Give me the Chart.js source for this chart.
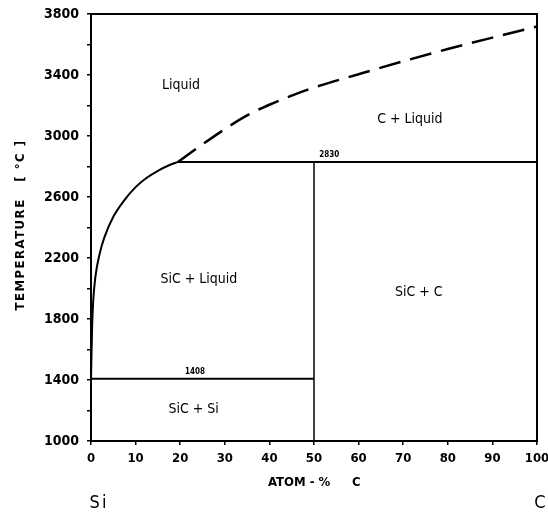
<!DOCTYPE html>
<html>
<head>
<meta charset="utf-8">
<script src="https://cdn.jsdelivr.net/npm/chart.js@4.4.0/dist/chart.umd.min.js"></script>
<style>
  html, body { margin: 0; padding: 0; background: #fff; }
  #wrap { width: 548px; height: 515px; }
</style>
</head>
<body>
<div id="wrap"><canvas id="phaseChart"></canvas></div>
<script>
// Si-C phase diagram
const liquidusX = [0, 0.25, 0.5, 1, 2, 3, 5, 7.5, 10, 12.5, 15, 17.5, 19.5];
const liquidusT = [1408, 1750, 1920, 2080, 2235, 2335, 2470, 2580, 2665, 2726, 2772, 2808, 2830];

const dashedX = [19.5, 25, 30, 35, 40, 45, 50, 60, 70, 80, 90, 100];
const dashedT = [2830, 2945, 3045, 3135, 3205, 3265, 3318, 3405, 3490, 3570, 3645, 3718];

const peritecticT = 2830;
const eutecticT = 1408;
const sicX = 50;

const yTicks = [1000, 1400, 1800, 2200, 2600, 3000, 3400, 3800];

const regionLabels = [
  { text: 'Liquid', x: 20.2, t: 3330 },
  { text: 'C + Liquid', x: 71.5, t: 3111 },
  { text: 'SiC + Liquid', x: 24.2, t: 2062 },
  { text: 'SiC + C', x: 73.5, t: 1975 },
  { text: 'SiC + Si', x: 23, t: 1210 }
];
const tempLabels = [
  { text: '2830', x: 53.4, t: 2830 },
  { text: '1408', x: 23.3, t: 1408 }
];

const NARROW = "'Liberation Sans Narrow', 'DejaVu Sans Condensed', sans-serif";
const COND = "'DejaVu Sans Condensed', 'Liberation Sans Narrow', sans-serif";

function pts(xs, ys) {
  return xs.map((x, i) => ({ x: x, y: ys[i] }));
}

const lineStyle = {
  showLine: true,
  borderColor: '#000',
  borderWidth: 2,
  pointRadius: 0,
  fill: false
};

// frame, labels, axis titles and end-member names
const annotate = {
  id: 'annotate',
  afterDatasetsDraw(chart) {
    const { ctx, chartArea: a, scales: { x, y } } = chart;
    ctx.save();
    ctx.strokeStyle = '#000';
    ctx.lineWidth = 2;
    ctx.strokeRect(a.left, a.top, a.right - a.left, a.bottom - a.top);

    ctx.fillStyle = '#000';
    ctx.textAlign = 'center';
    ctx.textBaseline = 'middle';
    ctx.font = '14px ' + NARROW;
    regionLabels.forEach(l => ctx.fillText(l.text, x.getPixelForValue(l.x), y.getPixelForValue(l.t)));

    ctx.font = 'bold 8px ' + NARROW;
    ctx.textBaseline = 'bottom';
    tempLabels.forEach(l => ctx.fillText(l.text, x.getPixelForValue(l.x), y.getPixelForValue(l.t) - 3));

    ctx.textBaseline = 'middle';
    ctx.font = 'bold 13px ' + COND;
    ctx.textAlign = 'left';
    ctx.fillText('ATOM - %', 268, 483);
    ctx.fillText('C', 352, 483);
    ctx.textAlign = 'center';

    ctx.save();
    ctx.translate(21, 225);
    ctx.rotate(-Math.PI / 2);
    ctx.letterSpacing = '1.5px';
    ctx.font = 'bold 13px ' + COND;
    ctx.fillText('TEMPERATURE   [ °C ]', 0, 0);
    ctx.restore();

    ctx.letterSpacing = '2px';
    ctx.font = '18px ' + COND;
    ctx.fillText('Si', 99, 503);
    ctx.fillText('C', 541, 503);
    ctx.restore();
  }
};

new Chart(document.getElementById('phaseChart'), {
  type: 'scatter',
  data: {
    datasets: [
      { ...lineStyle, data: pts(liquidusX, liquidusT), cubicInterpolationMode: 'monotone' },
      { ...lineStyle, data: pts(dashedX, dashedT), borderDash: [22, 10], borderWidth: 2.5, cubicInterpolationMode: 'monotone' },
      { ...lineStyle, data: [{ x: 19.5, y: peritecticT }, { x: 100, y: peritecticT }] },
      { ...lineStyle, data: [{ x: 0, y: eutecticT }, { x: sicX, y: eutecticT }] },
      { ...lineStyle, data: [{ x: sicX, y: 1000 }, { x: sicX, y: peritecticT }], borderWidth: 1.5 }
    ]
  },
  options: {
    responsive: true,
    maintainAspectRatio: false,
    animation: false,
    layout: { padding: { top: 14, right: 11, left: 0, bottom: 0 } },
    plugins: { legend: { display: false }, tooltip: { enabled: false } },
    scales: {
      x: {
        type: 'linear',
        min: 0,
        max: 100,
        afterFit(s) { s.height = 74; s.paddingLeft = 0; s.paddingRight = 0; },
        ticks: { stepSize: 10, color: '#000', font: { family: COND, size: 13, weight: 'bold' }, padding: 6 },
        grid: { drawOnChartArea: false, tickLength: 4, color: '#000', lineWidth: 1.5 },
        border: { color: '#000', width: 2 }
      },
      y: {
        type: 'linear',
        min: 1000,
        max: 3800,
        afterFit(s) { s.width = 91; s.paddingTop = 0; s.paddingBottom = 0; },
        ticks: {
          stepSize: 200,
          color: '#000',
          padding: 8,
          font: { family: COND, size: 14, weight: 'bold' },
          callback: v => (yTicks.includes(v) ? String(v) : '')
        },
        grid: { drawOnChartArea: false, tickLength: 4, color: '#000', lineWidth: 1.5 },
        border: { color: '#000', width: 2 }
      }
    }
  },
  plugins: [annotate]
});
</script>
</body>
</html>
